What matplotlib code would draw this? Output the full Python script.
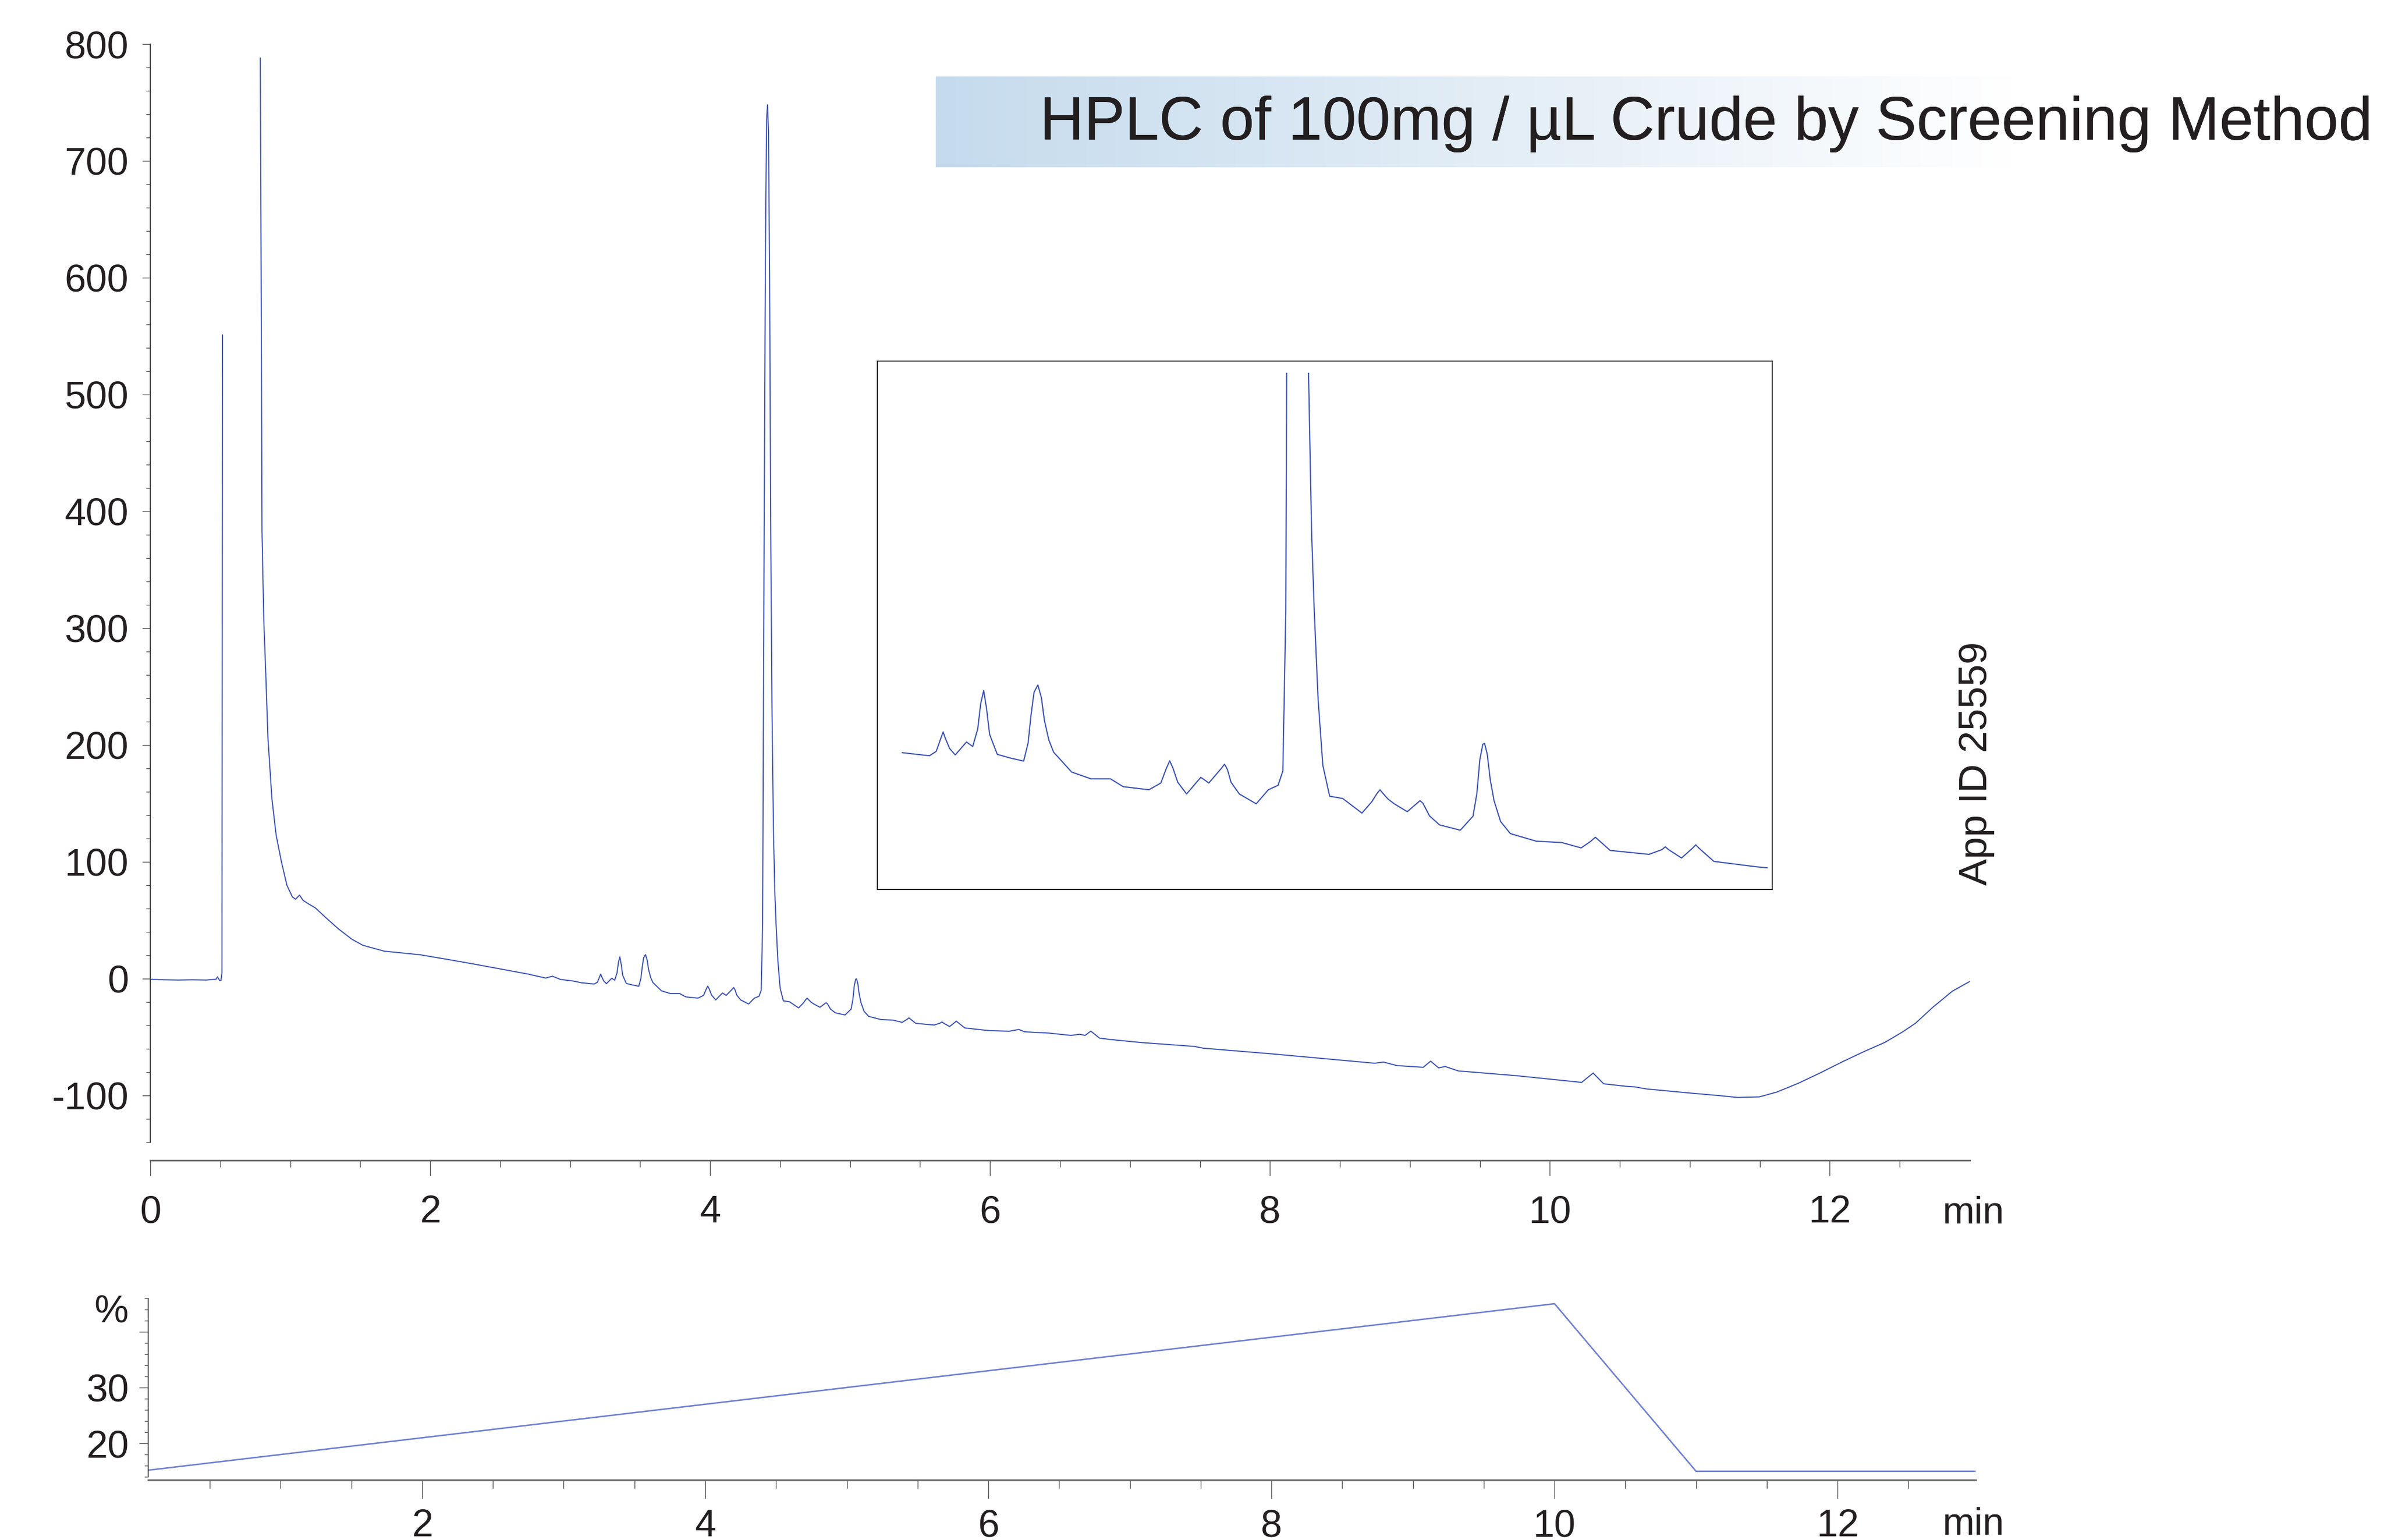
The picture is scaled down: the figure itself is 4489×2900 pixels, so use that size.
import numpy as np
import matplotlib
matplotlib.use("Agg")
import matplotlib.pyplot as plt
from matplotlib.patches import Rectangle
from matplotlib.ticker import FixedLocator

W, H = 4489, 2900
plt.rcParams['font.family'] = ['Liberation Sans', 'DejaVu Sans']
plt.rcParams['axes.unicode_minus'] = False

# chromatogram: time (min) and signal (mAU)
# nan = trace goes off scale between the two solvent-front spikes
time_min = [
    0.00, 0.10, 0.20, 0.30, 0.40, 0.47, 0.48, 0.495, 0.505, 0.512, 0.516,
    0.65,
    0.786, 0.792, 0.798, 0.811, 0.825, 0.841, 0.869, 0.899, 0.937, 0.976,
    1.015, 1.038, 1.066, 1.092, 1.131, 1.18, 1.247, 1.343, 1.441, 1.518,
    1.596, 1.673, 1.925, 2.118, 2.312, 2.506, 2.70, 2.825, 2.873, 2.932,
    3.02, 3.08, 3.172, 3.195, 3.21, 3.218, 3.226, 3.24, 3.259, 3.297,
    3.318, 3.335, 3.345, 3.355, 3.365, 3.375, 3.401, 3.445, 3.49, 3.505,
    3.515, 3.525, 3.538, 3.55, 3.56, 3.575, 3.591, 3.652, 3.717, 3.783,
    3.826, 3.913, 3.953, 3.972, 3.983, 3.994, 4.01, 4.04, 4.078, 4.088,
    4.098, 4.115, 4.158, 4.168, 4.178, 4.19, 4.218, 4.275, 4.316, 4.349,
    4.365, 4.375, 4.386, 4.395, 4.403, 4.41, 4.417, 4.425, 4.433, 4.442,
    4.452, 4.462, 4.471, 4.484, 4.50, 4.523, 4.567, 4.632, 4.665, 4.683,
    4.693, 4.703, 4.72, 4.741, 4.785, 4.818, 4.828, 4.838, 4.86, 4.894,
    4.964, 5.007, 5.02, 5.03, 5.04, 5.046, 5.055, 5.065, 5.078, 5.10,
    5.133, 5.22, 5.307, 5.372, 5.405, 5.42, 5.435, 5.47, 5.601, 5.645,
    5.656, 5.667, 5.711, 5.748, 5.759, 5.77, 5.82, 5.962, 6.0, 6.137,
    6.206, 6.247, 6.421, 6.578, 6.641, 6.679, 6.72, 6.782, 6.861, 7.081,
    7.459, 7.522, 8.025, 8.748, 8.811, 8.906, 9.095, 9.148, 9.205, 9.252,
    9.346, 9.755, 10.227, 10.309, 10.384, 10.541, 10.604, 10.69, 11.0,
    11.218, 11.342, 11.497, 11.621, 11.776, 11.931, 12.086, 12.241,
    12.396, 12.52, 12.613, 12.737, 12.876, 13.0,
]
signal_mau = [
    -0.5, -1.0, -1.2, -1.0, -1.2, -0.5, 1.5, -1.5, -1.5, 5, 551,
    np.nan,
    788, 600, 383, 307, 261, 205, 154, 123, 100, 80,
    70, 68, 71.5, 67, 64, 60.5, 53, 42.7, 33.7, 28.6,
    26, 23.5, 20.5, 16.6, 12.5, 8.2, 3.9, 0.5, 2.1, -0.7,
    -2.0, -3.5, -4.6, -3, 1.5, 3.9, 1.5, -2, -4.3, 0.3,
    -1.3, 5, 14, 18.6, 12, 3, -4.1, -5.4, -6.5, 0,
    10, 18, 20.6, 16, 8, 1, -3.3, -10.4, -12.8, -12.8,
    -15.6, -16.7, -14.3, -9, -6.4, -9, -14, -18.2, -13.5, -12.3,
    -13, -14.3, -9, -7.6, -9.5, -14, -18.2, -21.7, -16.7, -15.1,
    -10, 47, 383, 620, 735, 748, 725, 600, 383, 230,
    130, 75, 47, 15.5, -8, -19, -19.8, -25, -21, -18,
    -16.7, -18, -20, -21.7, -24.5, -21.5, -20.6, -21.5, -26, -29.2,
    -31.1, -26.1, -18, -6, -0.5, -0.2, -4, -13, -20.6, -28,
    -32.3, -35, -35.5, -37.4, -35, -33.6, -35, -38.3, -39.7, -38,
    -37, -38, -41, -37.5, -36.3, -37.5, -42.2, -44.1, -44.5, -45,
    -43.5, -45.5, -46.6, -48.6, -47.6, -48.6, -44.9, -50.9, -52.1, -54.7,
    -58, -59.5, -64.5, -72.4, -71.4, -74.4, -75.9, -70.6, -76.4, -75.2,
    -79, -83, -88.8, -80.8, -90, -92.1, -92.6, -94.4, -97.9,
    -100.2, -101.7, -101.2, -97.1, -89.5, -80.7, -71.4, -62.6,
    -54.4, -45.6, -38.1, -24.4, -10.7, -2.4,
]

# inset: magnified 3-6 min window
inset_start, inset_end = 3.08, 6.0
inset_clip = 131.8

# solvent gradient (%B)
grad_time = [0, 10, 11, 13]
grad_pct = [15, 45, 15, 15]

title = "HPLC of 100mg / µL Crude by Screening Method"
app_id = "App ID 25559"

trace_color = "#3b52b4"
text_color = "#231f20"


def px_box(x0, y0, x1, y1):
    # pixel box (top-left origin) -> figure fraction rect
    return [x0 / W, 1 - y1 / H, (x1 - x0) / W, (y1 - y0) / H]


fig = plt.figure(figsize=(W / 100, H / 100), dpi=100)

t = np.array(time_min)
s = np.array(signal_mau, dtype=float)

# ---- main chromatogram
ax = fig.add_axes(px_box(283, 83, 3709, 2185))
ax.patch.set_visible(False)
ax.plot(t, s, color=trace_color, lw=1.5)
ax.set_xlim(0, 13.0)
ax.set_ylim(-155.5, 800)
ax.spines['top'].set_visible(False)
ax.spines['right'].set_visible(False)
ax.spines['left'].set_bounds(-140, 800)
ax.spines['left'].set_color('#333333')
ax.spines['left'].set_linewidth(1.3)
ax.spines['bottom'].set_color('#6b6b6b')
ax.spines['bottom'].set_linewidth(2.2)
ax.xaxis.set_major_locator(FixedLocator(range(0, 13, 2)))
ax.xaxis.set_minor_locator(FixedLocator(np.arange(0.5, 12.6, 0.5)))
ax.yaxis.set_major_locator(FixedLocator(range(-100, 801, 100)))
ax.yaxis.set_minor_locator(FixedLocator(range(-140, 801, 20)))
ax.tick_params(axis='x', which='major', length=21, width=1.0, pad=26,
               labelsize=52, colors='#444444', labelcolor=text_color)
ax.tick_params(axis='x', which='minor', length=9.5, width=1.0, colors='#444444')
ax.tick_params(axis='y', which='major', length=10.8, width=1.0, pad=18.5,
               labelsize=52, colors='#444444', labelcolor=text_color)
ax.tick_params(axis='y', which='minor', length=5.8, width=1.0, colors='#444444')

# ---- inset
axi = fig.add_axes(px_box(1652, 680, 3337, 1675))
sel = (t >= inset_start) & (t <= inset_end)
line, = axi.plot(t[sel], s[sel], color=trace_color, lw=1.6)
axi.set_xlim(2.996, 6.017)
axi.set_ylim(-52.2, 135.9)
clip = Rectangle((2.996, -52.2), 6.017 - 2.996, inset_clip + 52.2,
                 transform=axi.transData)
line.set_clip_path(clip)
axi.set_xticks([])
axi.set_yticks([])
for sp in axi.spines.values():
    sp.set_color(text_color)
    sp.set_linewidth(1.4)

# ---- gradient panel
axb = fig.add_axes(px_box(279, 2444, 3720, 2787))
axb.patch.set_visible(False)
axb.plot(grad_time, grad_pct, color="#6f80d2", lw=2.0)
axb.set_xlim(0.064, 12.975)
axb.set_ylim(13.44, 46.05)
axb.spines['top'].set_visible(False)
axb.spines['right'].set_visible(False)
axb.spines['left'].set_bounds(14, 46)
axb.spines['left'].set_color('#333333')
axb.spines['left'].set_linewidth(1.3)
axb.spines['bottom'].set_color('#6b6b6b')
axb.spines['bottom'].set_linewidth(2.5)
axb.xaxis.set_major_locator(FixedLocator(range(2, 13, 2)))
axb.xaxis.set_minor_locator(FixedLocator(np.arange(0.5, 12.9, 0.5)))
axb.yaxis.set_major_locator(FixedLocator([20, 30, 40]))
axb.yaxis.set_minor_locator(FixedLocator(range(14, 47, 2)))
axb.set_yticklabels(['20', '30', ''])
axb.tick_params(axis='x', which='major', length=25, width=1.0, pad=14,
                labelsize=52, colors='#444444', labelcolor=text_color)
axb.tick_params(axis='x', which='minor', length=11.5, width=1.0, colors='#444444')
axb.tick_params(axis='y', which='major', length=12, width=1.0, pad=14,
                labelsize=52, colors='#444444', labelcolor=text_color)
axb.tick_params(axis='y', which='minor', length=5, width=1.0, colors='#444444')

# ---- overlay in pixel coords for title, labels
ov = fig.add_axes([0, 0, 1, 1])
ov.set_zorder(5)
ov.patch.set_visible(False)

left_rgb = np.array([197, 219, 237]) / 255
g = np.linspace(0, 1, 512)[:, None]
band = left_rgb * (1 - g) + g
ov.imshow(band[None, :, :], extent=(1762, 3790, 315, 144), aspect='auto',
          interpolation='bilinear')

for x0, x1, c in [(0, 3015, '#2a3341'), (3015, 3775, '#4b4c51'),
                  (3775, W, text_color)]:
    txt = ov.text(1958, 263, title, fontsize=83, color=c,
                  ha='left', va='baseline')
    txt.set_clip_path(Rectangle((x0, 0), x1 - x0, H, transform=ov.transData))

ov.text(3721, 1438, app_id, rotation=90, fontsize=54, color=text_color,
        ha='center', va='center')
ov.text(3715, 2285, "min", fontsize=52, color=text_color, ha='center', va='center')
ov.text(3715, 2872, "min", fontsize=52, color=text_color, ha='center', va='center')
ov.text(242, 2471, "%", fontsize=52, color=text_color, ha='right', va='center')

ov.set_xlim(0, W)
ov.set_ylim(H, 0)
ov.axis('off')

fig.savefig("out.png", dpi=100)
